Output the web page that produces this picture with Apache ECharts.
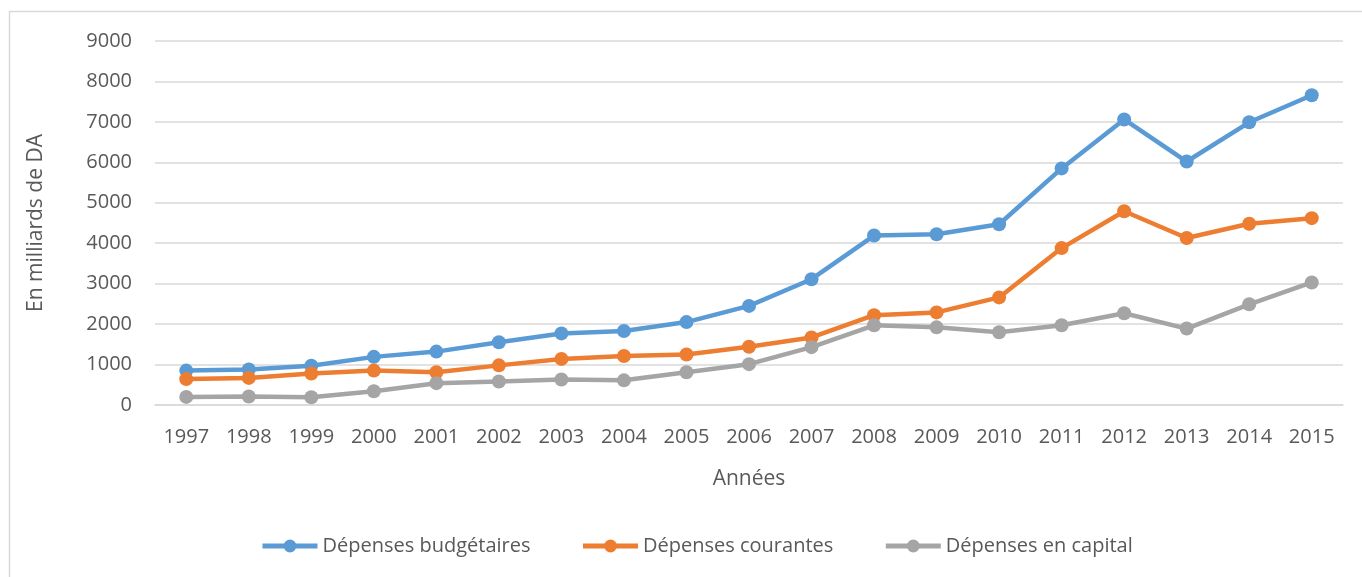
<!DOCTYPE html>
<html>
<head>
<meta charset="utf-8">
<script src="https://cdn.jsdelivr.net/npm/echarts@6/dist/echarts.min.js"></script>
<style>
  html, body { margin: 0; padding: 0; background: #ffffff; }
  #chart { width: 1362px; height: 577px; }
</style>
</head>
<body>
<div id="chart"></div>
<script>
// Années et dépenses publiques (en milliards de DA)
const years = ['1997','1998','1999','2000','2001','2002','2003','2004','2005','2006',
               '2007','2008','2009','2010','2011','2012','2013','2014','2015'];
const depensesBudgetaires = [850, 880, 970, 1190, 1320, 1550, 1770, 1830, 2050, 2450,
                             3110, 4190, 4220, 4470, 5850, 7060, 6020, 6990, 7660];
const depensesCourantes   = [640, 670, 780, 850, 810, 980, 1140, 1210, 1250, 1440,
                             1670, 2220, 2290, 2660, 3880, 4790, 4130, 4480, 4620];
const depensesCapital     = [200, 210, 190, 340, 540, 580, 630, 610, 810, 1010,
                             1430, 1970, 1920, 1800, 1970, 2270, 1890, 2490, 3030];
const seriesNames = ['Dépenses budgétaires', 'Dépenses courantes', 'Dépenses en capital'];
const seriesColors = ['#5B9BD5', '#ED7D31', '#A5A5A5'];

const FONT = '"Open Sans", "Noto Sans", sans-serif';
const TEXT = '#595959';

const chart = echarts.init(document.getElementById('chart'), null, { renderer: 'canvas' });

function lineSeries(name, data, color) {
  return {
    name: name,
    type: 'line',
    data: data,
    symbol: 'circle',
    symbolSize: 14,
    showSymbol: true,
    lineStyle: { width: 4.5, color: color },
    itemStyle: { color: color },
    emphasis: { disabled: true },
    animation: false
  };
}

chart.setOption({
  backgroundColor: '#ffffff',
  animation: false,
  graphic: [{
    type: 'rect',
    shape: { x: 9.5, y: 11.5, width: 1400, height: 620 },
    style: { fill: 'none', stroke: '#d9d9d9', lineWidth: 1.5 },
    silent: true
  }],
  grid: { left: 155, right: 19, top: 41, bottom: 172 },
  legend: {
    data: seriesNames,
    bottom: 16,
    left: 255,
    itemWidth: 55,
    itemHeight: 16,
    itemGap: 50,
    lineStyle: { width: 5 },
    textStyle: { fontFamily: FONT, fontSize: 20, color: TEXT }
  },
  xAxis: {
    type: 'category',
    data: years,
    boundaryGap: true,
    name: 'Années',
    nameLocation: 'middle',
    nameGap: 64,
    nameTextStyle: { fontFamily: FONT, fontSize: 21, color: TEXT },
    axisLine: { show: true, lineStyle: { color: '#d9d9d9', width: 1.5 } },
    axisTick: { show: false },
    axisLabel: { fontFamily: FONT, fontSize: 20, color: TEXT, margin: 22 }
  },
  yAxis: {
    type: 'value',
    min: 0,
    max: 9000,
    interval: 1000,
    name: 'En milliards de DA',
    nameLocation: 'middle',
    nameGap: 108,
    nameRotate: 90,
    nameTextStyle: { fontFamily: FONT, fontSize: 21, color: TEXT },
    axisLine: { show: false },
    axisTick: { show: false },
    splitLine: { lineStyle: { color: '#d9d9d9', width: 1.5 } },
    axisLabel: { fontFamily: FONT, fontSize: 20, color: TEXT, margin: 23,
                 formatter: (v) => String(v) }
  },
  series: [
    lineSeries(seriesNames[0], depensesBudgetaires, seriesColors[0]),
    lineSeries(seriesNames[1], depensesCourantes, seriesColors[1]),
    lineSeries(seriesNames[2], depensesCapital, seriesColors[2])
  ]
});
</script>
</body>
</html>
